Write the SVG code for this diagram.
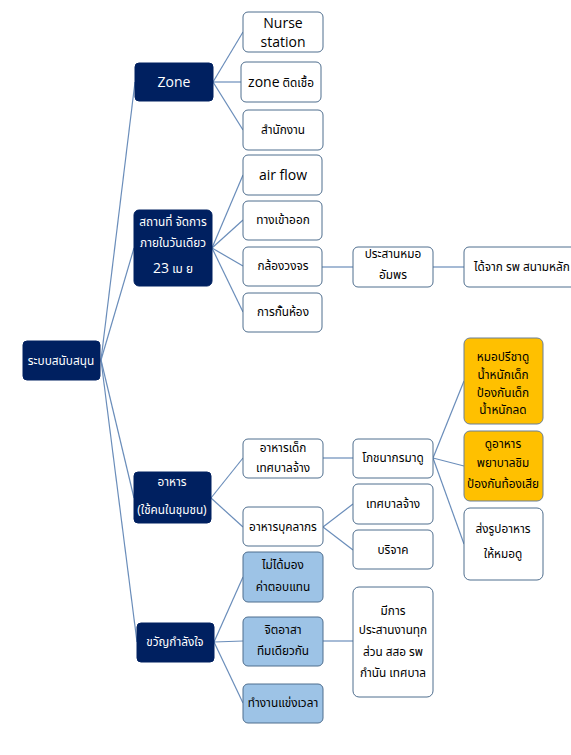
<svg xmlns="http://www.w3.org/2000/svg" width="571" height="755" viewBox="0 0 571 755">
<style>
.bg{fill:#ffffff}
.dk rect{fill:#002060;stroke:#002060;stroke-width:1}
.wt rect{fill:#ffffff;stroke:#4F6E8E;stroke-width:1}
.or rect{fill:#FFC000;stroke:#6B7F95;stroke-width:1}
.lb rect{fill:#9DC3E6;stroke:#4F6E8E;stroke-width:1}
text{font-family:"Noto Sans Thai","Noto Sans","Liberation Sans",sans-serif;font-size:11.8px;text-anchor:middle;fill:#000000}
.dk text{fill:#ffffff}
.en{font-family:"Open Sans","Liberation Sans",sans-serif;font-size:14px}
#conn line{stroke:#6A8DBA;stroke-width:1.2;fill:none}
</style>
<rect class="bg" x="0" y="0" width="571" height="755"/>
<g id="conn">
<line x1="101" y1="360" x2="135" y2="82"/>
<line x1="101" y1="360" x2="134" y2="248"/>
<line x1="101" y1="360" x2="134" y2="498"/>
<line x1="101" y1="360" x2="137" y2="642"/>
<line x1="213" y1="82" x2="243" y2="32"/>
<line x1="213" y1="82" x2="241" y2="82"/>
<line x1="213" y1="82" x2="243" y2="130"/>
<line x1="212" y1="248" x2="243" y2="175"/>
<line x1="212" y1="248" x2="243" y2="220"/>
<line x1="212" y1="248" x2="243" y2="266"/>
<line x1="212" y1="248" x2="243" y2="312"/>
<line x1="322" y1="267" x2="353" y2="267"/>
<line x1="433" y1="267" x2="464" y2="267"/>
<line x1="211" y1="498" x2="243" y2="458"/>
<line x1="211" y1="498" x2="243" y2="527"/>
<line x1="323" y1="458" x2="353" y2="458"/>
<line x1="323" y1="527" x2="353" y2="504"/>
<line x1="323" y1="527" x2="353" y2="550"/>
<line x1="433" y1="458" x2="464" y2="381"/>
<line x1="433" y1="458" x2="464" y2="466"/>
<line x1="433" y1="458" x2="464" y2="544"/>
<line x1="214" y1="642" x2="243" y2="577"/>
<line x1="214" y1="642" x2="243" y2="641"/>
<line x1="214" y1="642" x2="243" y2="703"/>
<line x1="323" y1="641" x2="353" y2="641"/>
</g>

<g id="root" class="dk"><rect x="23" y="341" width="77" height="39" rx="4"/><text x="61" y="365">ระบบสนับสนุน</text></g>

<g id="zone" class="dk"><rect x="135" y="63" width="78" height="38" rx="4"/><text class="en" x="174" y="87">Zone</text></g>
<g id="place" class="dk"><rect x="134" y="210" width="78" height="76" rx="5"/><text x="173" y="226">สถานที่ จัดการ</text><text x="173" y="247">ภายในวันเดียว</text><text x="173" y="273"><tspan class="en" font-size="15">23</tspan> เม ย</text></g>
<g id="food" class="dk"><rect x="134" y="472" width="77" height="51" rx="4"/><text x="172" y="486">อาหาร</text><text x="172" y="514">(ใช้คนในชุมชน)</text></g>
<g id="morale" class="dk"><rect x="137" y="623" width="77" height="39" rx="4"/><text x="175" y="646">ขวัญกำลังใจ</text></g>

<g id="nurse" class="wt"><rect x="243" y="12" width="80" height="40" rx="5"/><text class="en" x="283" y="28">Nurse</text><text class="en" x="283" y="47">station</text></g>
<g id="zoneinf" class="wt"><rect x="241" y="62" width="80" height="40" rx="5"/><text x="281" y="87"><tspan class="en">zone</tspan> ติดเชื้อ</text></g>
<g id="office" class="wt"><rect x="243" y="110" width="80" height="40" rx="5"/><text x="283" y="134">สำนักงาน</text></g>
<g id="airflow" class="wt"><rect x="243" y="155" width="79" height="40" rx="5"/><text class="en" x="283" y="180">air flow</text></g>
<g id="entry" class="wt"><rect x="243" y="201" width="79" height="39" rx="5"/><text x="283" y="224">ทางเข้าออก</text></g>
<g id="cctv" class="wt"><rect x="243" y="247" width="79" height="39" rx="5"/><text x="283" y="270">กล้องวงจร</text></g>
<g id="partition" class="wt"><rect x="243" y="293" width="79" height="39" rx="5"/><text x="283" y="316">การกั้นห้อง</text></g>
<g id="coord" class="wt"><rect x="353" y="247" width="80" height="40" rx="5"/><text x="393" y="258">ประสานหมอ</text><text x="393" y="279">อัมพร</text></g>
<g id="fromhosp" class="wt"><rect x="464" y="247" width="112" height="40" rx="5"/><text x="474" y="271" style="text-anchor:start">ได้จาก รพ สนามหลัก</text></g>

<g id="kidfood" class="wt"><rect x="243" y="439" width="80" height="39" rx="5"/><text x="283" y="452">อาหารเด็ก</text><text x="283" y="472">เทศบาลจ้าง</text></g>
<g id="stafffood" class="wt"><rect x="243" y="507" width="80" height="39" rx="5"/><text x="283" y="531">อาหารบุคลากร</text></g>
<g id="nutri" class="wt"><rect x="353" y="439" width="80" height="39" rx="5"/><text x="393" y="462">โภชนากรมาดู</text></g>
<g id="muni" class="wt"><rect x="353" y="484" width="80" height="40" rx="5"/><text x="393" y="508">เทศบาลจ้าง</text></g>
<g id="donate" class="wt"><rect x="353" y="530" width="80" height="39" rx="5"/><text x="393" y="554">บริจาค</text></g>
<g id="doctor" class="or"><rect x="464" y="338" width="79" height="86" rx="6"/><text x="503" y="361">หมอปรีชาดู</text><text x="503" y="379">น้ำหนักเด็ก</text><text x="503" y="397">ป้องกันเด็ก</text><text x="503" y="414">น้ำหนักลด</text></g>
<g id="taste" class="or"><rect x="464" y="431" width="79" height="70" rx="6"/><text x="503" y="448">ดูอาหาร</text><text x="503" y="467">พยาบาลชิม</text><text x="503" y="488">ป้องกันท้องเสีย</text></g>
<g id="photo" class="wt"><rect x="464" y="508" width="79" height="72" rx="6"/><text x="503" y="533">ส่งรูปอาหาร</text><text x="503" y="558">ให้หมอดู</text></g>

<g id="nopay" class="lb"><rect x="243" y="552" width="80" height="50" rx="5"/><text x="283" y="569">ไม่ได้มอง</text><text x="283" y="591">ค่าตอบแทน</text></g>
<g id="volunteer" class="lb"><rect x="243" y="617" width="80" height="49" rx="5"/><text x="283" y="634">จิตอาสา</text><text x="283" y="655">ทีมเดียวกัน</text></g>
<g id="race" class="lb"><rect x="243" y="684" width="80" height="39" rx="5"/><text x="283" y="707">ทำงานแข่งเวลา</text></g>
<g id="allparts" class="wt"><rect x="353" y="587" width="80" height="110" rx="6"/><text x="393" y="615">มีการ</text><text x="393" y="634">ประสานงานทุก</text><text x="393" y="656">ส่วน สสอ รพ</text><text x="393" y="677">กำนัน เทศบาล</text></g>
</svg>
